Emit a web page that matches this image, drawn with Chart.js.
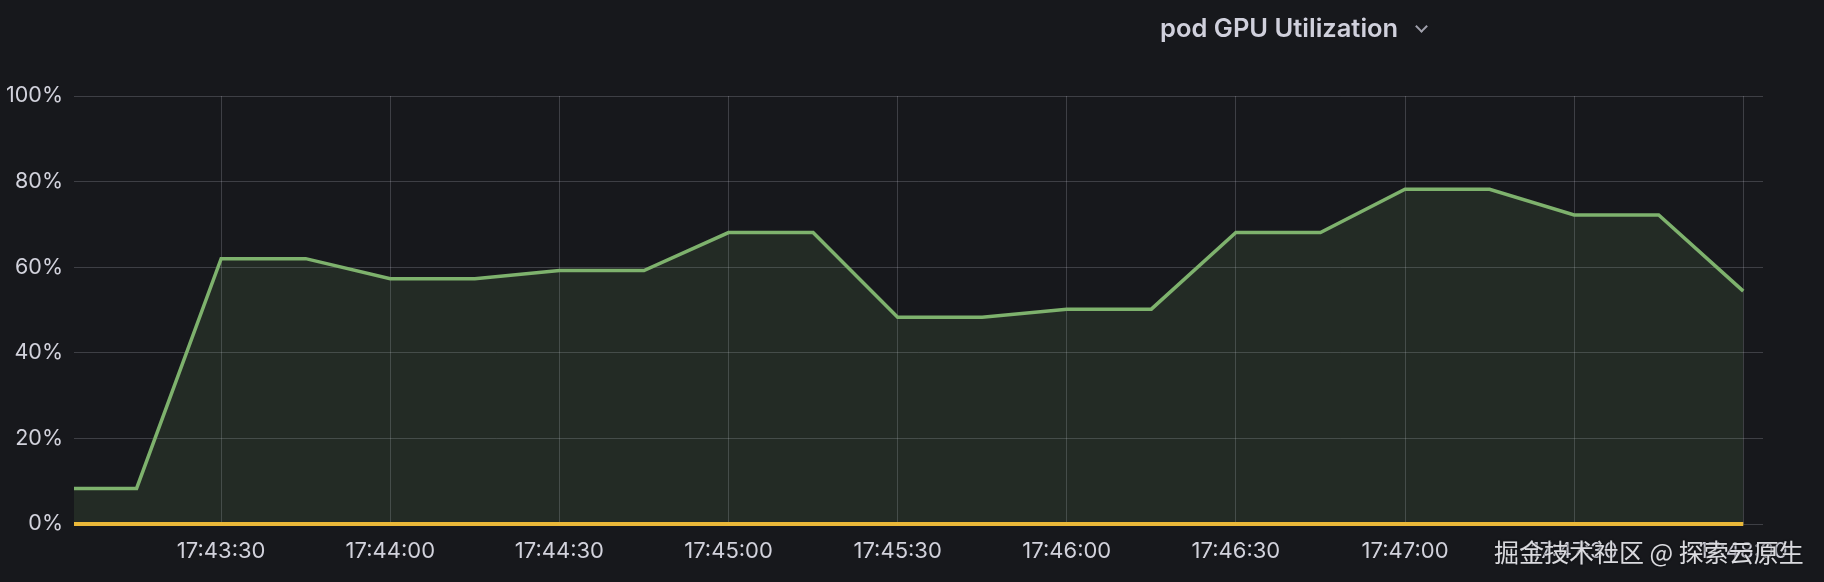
<!DOCTYPE html>
<html>
<head>
<meta charset="utf-8">
<script src="https://cdn.jsdelivr.net/npm/chart.js@4/dist/chart.umd.min.js"></script>
<style>
  body { margin:0; background:#17181c; }
  #wrap { position:relative; width:1824px; height:582px; }
  #title { position:absolute; left:1160px; top:12px; font:600 25.5px Inter, "Noto Sans", sans-serif; color:#d0d0dc; white-space:nowrap; }
  #chev { position:absolute; left:1417px; top:22px; width:7px; height:7px; border-right:2px solid #a0a0ac; border-bottom:2px solid #a0a0ac; transform:rotate(45deg); }
  #mark { position:absolute; left:1494px; top:533px; font:25px "Noto Sans CJK SC", sans-serif; color:rgba(236,236,240,0.92); white-space:nowrap; text-shadow:0 0 2px #17181c, 0 0 2px #17181c; }
</style>
</head>
<body>
<div id="wrap">
  <canvas id="myChart" width="1824" height="582"></canvas>
  <div id="title">pod GPU Utilization</div>
  <div id="chev"></div>
  <div id="mark">掘金技术社区 @ 探索云原生</div>
</div>
<script>
// data, seconds after 17:43:00, one sample every 15s
var sampleSecs = [0, 15, 30, 45, 60, 75, 90, 105, 120, 135, 150, 165, 180, 195, 210, 225, 240, 255, 270, 285, 300];
var gpuUtil = [8.3, 8.3, 62, 62, 57.3, 57.3, 59.2, 59.2, 68.1, 68.1, 48.3, 48.3, 50.2, 50.2, 68.1, 68.1, 78.2, 78.2, 72.2, 72.2, 54.4];
var gpuOther = [0, 0, 0, 0, 0, 0, 0, 0, 0, 0, 0, 0, 0, 0, 0, 0, 0, 0, 0, 0, 0];
var xTickSecs = [30, 60, 90, 120, 150, 180, 210, 240, 270, 300];
var xTickLabels = ['17:43:30', '17:44:00', '17:44:30', '17:45:00', '17:45:30', '17:46:00', '17:46:30', '17:47:00', '17:47:30', '17:48:00'];
var yTicks = [0, 20, 40, 60, 80, 100];

function pts(vals) {
  return vals.map(function(v, i){ return {x: sampleSecs[i], y: v}; });
}

var gridCol = 'rgba(204,204,220,0.22)';
var textCol = '#d2d2dc';

var ctx = document.getElementById('myChart').getContext('2d');
var myChart = new Chart(ctx, {
  type: 'line',
  data: {
    datasets: [
      {
        label: 'other',
        data: pts(gpuOther),
        borderColor: '#eab839',
        borderWidth: 4,
        pointRadius: 0,
        fill: false,
        tension: 0,
        clip: { left: 0, right: 0, top: 0, bottom: 4 }
      },
      {
        label: 'gpu',
        data: pts(gpuUtil),
        borderColor: '#7eb26d',
        backgroundColor: 'rgba(126,178,109,0.12)',
        borderWidth: 3.5,
        pointRadius: 0,
        fill: 'origin',
        tension: 0,
        clip: { left: 0, right: 0, top: 4, bottom: 0 }
      }
    ]
  },
  options: {
    responsive: false,
    animation: false,
    layout: { padding: { top: 96, right: 61, left: 0, bottom: 0 } },
    plugins: { legend: { display: false }, tooltip: { enabled: false } },
    scales: {
      x: {
        type: 'linear',
        min: 3.9,
        max: 303.5,
        afterBuildTicks: function(s){ s.ticks = xTickSecs.map(function(v){ return {value: v}; }); },
        afterFit: function(s){ s.height = 58; },
        grid: { color: gridCol, drawTicks: false },
        border: { display: false },
        ticks: {
          color: textCol,
          font: { family: 'Inter', size: 22 },
          padding: 14,
          maxRotation: 0,
          autoSkip: false,
          callback: function(v){ var i = xTickSecs.indexOf(v); return i < 0 ? '' : xTickLabels[i]; }
        }
      },
      y: {
        min: 0,
        max: 100,
        afterBuildTicks: function(s){ s.ticks = yTicks.map(function(v){ return {value: v}; }); },
        afterFit: function(s){ s.width = 74; },
        grid: { color: gridCol, drawTicks: false },
        border: { display: false },
        ticks: {
          color: textCol,
          font: { family: 'Inter', size: 21.5 },
          padding: 11,
          callback: function(v){ return v + '%'; }
        }
      }
    }
  }
});
</script>
</body>
</html>
